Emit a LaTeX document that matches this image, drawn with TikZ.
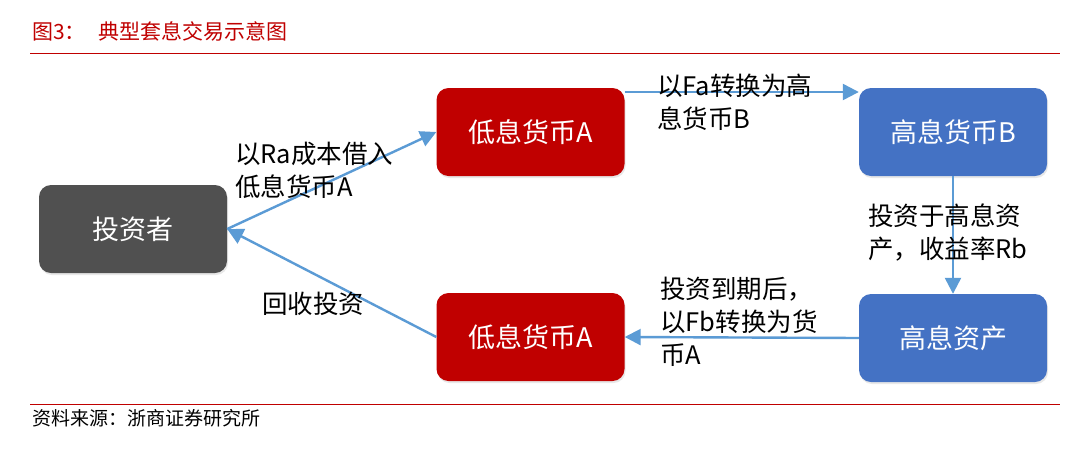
\documentclass[tikz,border=0pt]{standalone}
\usepackage{fontspec}
\setmainfont{Noto Sans CJK SC}
\newfontfamily\cjk{Noto Sans CJK SC}
\usetikzlibrary{arrows.meta,shadows}
\definecolor{redbox}{HTML}{C00000}
\definecolor{bluebox}{HTML}{4472C4}
\definecolor{graybox}{HTML}{505050}
\definecolor{arrowc}{HTML}{5B9BD5}
\definecolor{titlered}{HTML}{C00000}
\tikzset{
  box/.style={rounded corners=12pt, minimum width=188pt, minimum height=88pt, inner sep=0pt,
    text=white, font=\fontsize{27}{30}\selectfont,
    drop shadow={opacity=0.18, shadow xshift=1pt, shadow yshift=-2pt}},
  redb/.style={box, fill=redbox},
  blueb/.style={box, fill=bluebox},
  grayb/.style={box, fill=graybox},
  conn/.style={draw=arrowc, line width=2.4pt, -{Triangle[length=16pt,width=16pt]}},
  lbl/.style={align=left, inner sep=0pt, font=\fontsize{25.5}{33}\selectfont, anchor=north west},
}
\begin{document}
\begin{tikzpicture}[x=1pt,y=-1pt]
\useasboundingbox (0,0) rectangle (1080,448);
\fill[white] (0,0) rectangle (1080,448);
% title and rules
\node[anchor=west, inner sep=0pt, text=titlered, font=\fontsize{21}{24}\selectfont] (title) at (32,31) {图3：\hspace{0.6em}典型套息交易示意图};
\draw[titlered, line width=1pt] (30,53) -- (1060,53);
\draw[titlered, line width=1pt] (30,404) -- (1060,404);
\node[anchor=west, inner sep=0pt, font=\fontsize{19}{22}\selectfont] (src) at (32,418) {资料来源：浙商证券研究所};
% boxes
\node[grayb] (inv) at (133,229) {投资者};
\node[redb] (lowA) at (530.5,132) {低息货币A};
\node[blueb] (highB) at (953,132) {高息货币B};
\node[blueb] (asset) at (953,338) {高息资产};
\node[redb] (lowA2) at (530.5,337) {低息货币A};
% connectors
\draw[conn] (inv.east) -- (lowA.west);
\draw[conn] ([yshift=40pt]lowA.east) -- ([yshift=40pt]highB.west);
\draw[conn] (highB.south) -- (asset.north);
\draw[conn] (asset.west) -- (lowA2.east);
\draw[conn] (lowA2.west) -- (inv.east);
% labels
\node[lbl] (l1) at (235,142) {以Ra成本借入\\低息货币A};
\node[lbl] (l2) at (657,74) {以Fa转换为高\\息货币B};
\node[lbl] (l3) at (868,204) {投资于高息资\\产，收益率Rb};
\node[lbl] (l4) at (660,277) {投资到期后，\\以Fb转换为货\\币A};
\node[lbl] (l5) at (262,292) {回收投资};
\end{tikzpicture}
\end{document}
